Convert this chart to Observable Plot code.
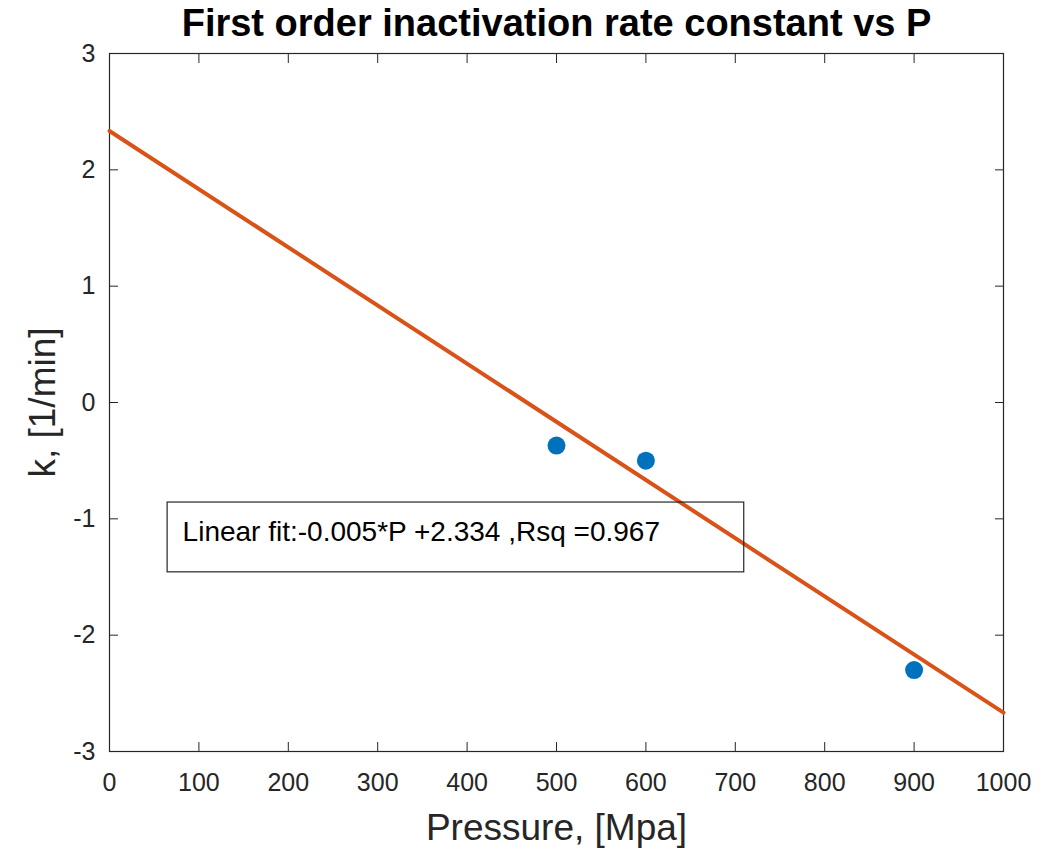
<!DOCTYPE html>
<html>
<head>
<meta charset="utf-8">
<script src="https://cdn.jsdelivr.net/npm/d3@7"></script>
<script src="https://cdn.jsdelivr.net/npm/@observablehq/plot@0.6"></script>
<style>
  html, body { margin: 0; padding: 0; background: #fff; }
  #chart svg { display: block; }
</style>
</head>
<body>
<div id="chart"></div>
<script>
// Measured first-order inactivation rate constants
const pressure = [500, 600, 900];          // MPa
const rateK = [-0.37, -0.50, -2.30];       // 1/min

// Linear fit reported in the annotation
const fitSlope = -0.005;
const fitIntercept = 2.334;
const fitRsq = 0.967;
const fitRange = [0, 1000];

const xTicks = [0, 100, 200, 300, 400, 500, 600, 700, 800, 900, 1000];
const yTicks = [-3, -2, -1, 0, 1, 2, 3];

// Annotation box corners (data units)
const boxX = [65, 710];
const boxY = [-0.86, -1.46];

const points = pressure.map((p, i) => ({p, k: rateK[i]}));
const fitLine = fitRange.map(p => ({p, k: fitSlope * p + fitIntercept}));
const fitLabel = `Linear fit:${fitSlope}*P +${fitIntercept} ,Rsq =${fitRsq}`;

const axisColor = "#262626";
const font = "'Liberation Sans', Arial, Helvetica, sans-serif";

const chart = Plot.plot({
  width: 1058,
  height: 851,
  marginLeft: 109,
  marginRight: 55,
  marginTop: 53,
  marginBottom: 100,
  style: {fontFamily: font, background: "#fff", color: axisColor},
  x: {domain: [0, 1000]},
  y: {domain: [-3, 3]},
  marks: [
    Plot.frame({stroke: axisColor, strokeWidth: 1.2}),
    // inward ticks on all four sides
    Plot.axisX({anchor: "bottom", ticks: xTicks, tickSize: -9, tickPadding: 31,
      fontSize: 25, label: null, tickFormat: d => String(d), stroke: axisColor}),
    Plot.axisX({anchor: "top", ticks: xTicks, tickSize: -9, label: null,
      tickFormat: () => "", stroke: axisColor}),
    Plot.axisY({anchor: "left", ticks: yTicks, tickSize: -9, tickPadding: 23,
      fontSize: 25, label: null, tickFormat: d => String(d), stroke: axisColor}),
    Plot.axisY({anchor: "right", ticks: yTicks, tickSize: -9, label: null,
      tickFormat: () => "", stroke: axisColor}),
    // axis titles and chart title
    Plot.text(["Pressure, [Mpa]"], {frameAnchor: "bottom", dy: 77, lineAnchor: "middle",
      textAnchor: "middle", fontSize: 37, fill: axisColor}),
    Plot.text(["k, [1/min]"], {frameAnchor: "left", dx: -66, rotate: -90, lineAnchor: "middle",
      textAnchor: "middle", fontSize: 37, fill: axisColor}),
    Plot.text(["First order inactivation rate constant vs P"], {frameAnchor: "top", dy: -30,
      lineAnchor: "middle", textAnchor: "middle", fontSize: 38, fontWeight: "bold", fill: "#000"}),
    // fitted line and measurements
    Plot.line(fitLine, {x: "p", y: "k", stroke: "#D95319", strokeWidth: 4}),
    Plot.dot(points, {x: "p", y: "k", r: 9, fill: "#0072BD", stroke: "none"}),
    // annotation box (transparent, the fit line shows through)
    Plot.rect([{x1: boxX[0], x2: boxX[1], y1: boxY[0], y2: boxY[1]}],
      {x1: "x1", x2: "x2", y1: "y1", y2: "y2", fill: "none", stroke: "#262626", strokeWidth: 1.2}),
    Plot.text([fitLabel], {x: boxX[0], y: boxY[0], dx: 15, dy: 29, textAnchor: "start",
      fontSize: 28, fill: "#000"})
  ]
});

document.getElementById("chart").appendChild(chart);
</script>
</body>
</html>
